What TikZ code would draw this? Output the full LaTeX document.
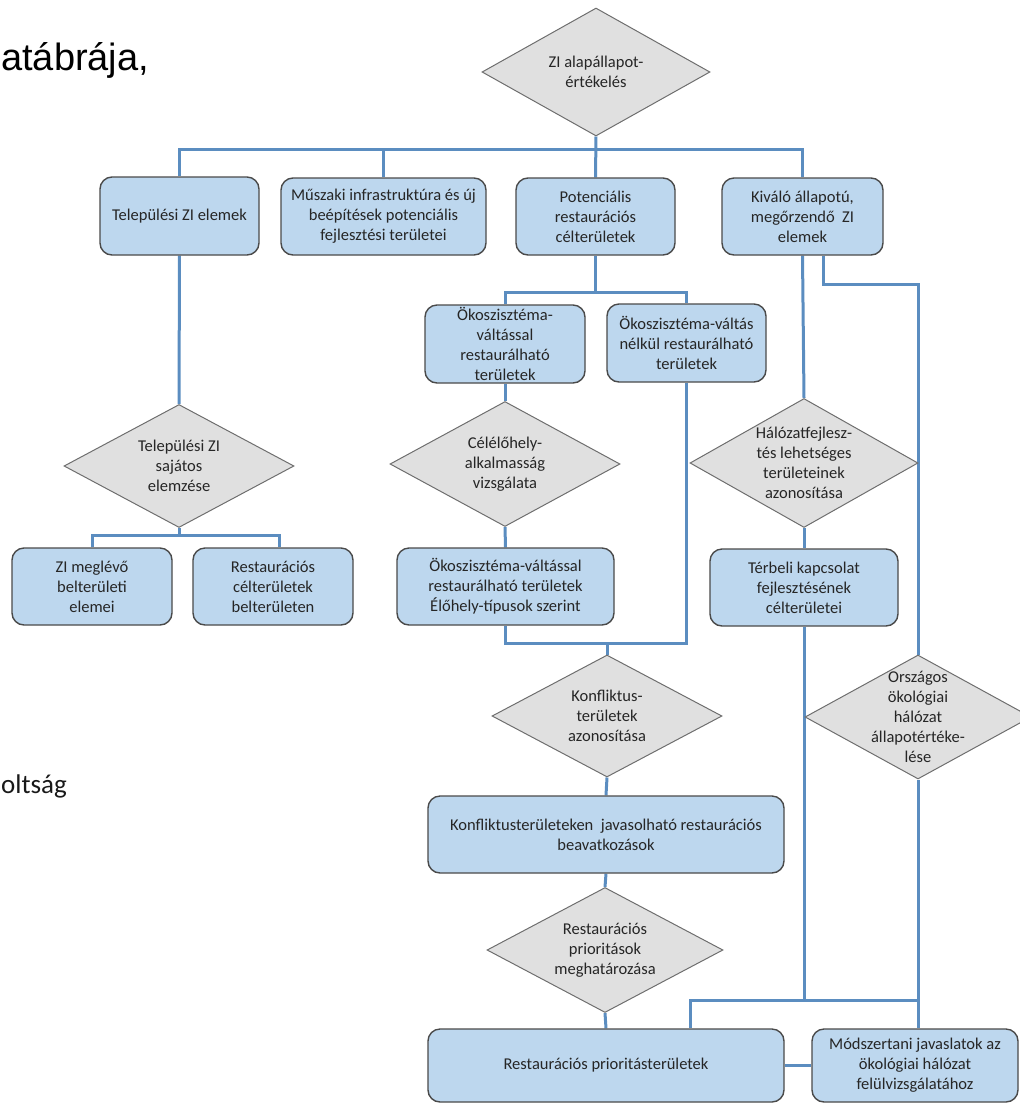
\documentclass[tikz,border=0pt]{standalone}
\usepackage{fontspec}
\setmainfont{Carlito}
\newfontfamily\arialf{Liberation Sans}
\usetikzlibrary{shapes.geometric,calc}
\pgfdeclarelayer{background}
\pgfsetlayers{background,main}
\definecolor{boxfill}{HTML}{BDD7EE}
\definecolor{boxdraw}{HTML}{4A4A4A}
\definecolor{diafill}{HTML}{E0E0E0}
\definecolor{diadraw}{HTML}{6E6E6E}
\definecolor{linec}{HTML}{5B8DC0}
\definecolor{txt}{HTML}{262626}
\begin{document}
\begin{tikzpicture}[x=1pt,y=-1pt,
  bx/.style={draw=boxdraw, line width=1.4pt, fill=boxfill, rounded corners=12pt,
    inner sep=0pt, align=center, text=txt, font=\fontsize{16.5}{20}\selectfont},
  dia/.style={diamond, draw=diadraw, line width=1pt, fill=diafill, inner sep=0pt,
    label={[align=center, text=txt, font=\fontsize{16.5}{20}\selectfont]center:#1}},
  conn/.style={draw=linec, line width=3pt}]
\useasboundingbox (0,0) rectangle (1020,1104);

% fragments of surrounding page
\node[anchor=base west, font=\arialf\fontsize{38}{46}\selectfont, inner sep=0pt] (title) at (1,70) {atábrája,};
\node[anchor=base west, text=black!90, font=\fontsize{27}{32}\selectfont, inner sep=0pt] (frag) at (1,793) {oltság};

% diamonds
\node[dia={ZI alapállapot-\\értékelés}, minimum width=228pt, minimum height=128pt] (d0) at (596,72) {};
\node[dia={Települési ZI\\sajátos\\elemzése}, minimum width=230pt, minimum height=123pt] (d1) at (179,466) {};
\node[dia={Célélőhely-\\alkalmasság\\vizsgálata}, minimum width=230pt, minimum height=125pt] (d2) at (505,464) {};
\node[dia={Hálózatfejlesz-\\tés lehetséges\\területeinek\\azonosítása}, minimum width=228pt, minimum height=129pt] (d3) at (804,463) {};
\node[dia={Konfliktus-\\területek\\azonosítása}, minimum width=230pt, minimum height=122pt] (d4) at (607,716) {};
\node[dia={Restaurációs\\prioritások\\meghatározása}, minimum width=236pt, minimum height=125pt] (d5) at (605,950) {};
\node[dia={Országos\\ökológiai\\hálózat\\állapotértéke-\\lése}, minimum width=226pt, minimum height=124pt] (d6) at (918,717) {};

% boxes
\node[bx, minimum width=159pt, minimum height=78pt] (b1) at (179.5,216) {Települési ZI elemek};
\node[bx, minimum width=205pt, minimum height=77pt] (b2) at (383.5,216.5) {Műszaki infrastruktúra és új\\beépítések potenciális\\fejlesztési területei};
\node[bx, minimum width=159pt, minimum height=77pt] (b3) at (595.5,216.5) {Potenciális\\restaurációs\\célterületek};
\node[bx, minimum width=161pt, minimum height=77pt] (b4) at (802.5,216.5) {Kiváló állapotú,\\megőrzendő\ \ ZI\\elemek};
\node[bx, minimum width=160pt, minimum height=78pt] (b5) at (505,344) {Ökoszisztéma-\\váltással\\restaurálható\\területek};
\node[bx, minimum width=159pt, minimum height=78pt] (b6) at (686.5,343) {Ökoszisztéma-váltás\\nélkül restaurálható\\területek};
\node[bx, minimum width=160pt, minimum height=77pt] (b7) at (92,586.5) {ZI meglévő\\belterületi\\elemei};
\node[bx, minimum width=160pt, minimum height=77pt] (b8) at (273,586.5) {Restaurációs\\célterületek\\belterületen};
\node[bx, minimum width=217pt, minimum height=77pt] (b9) at (505.5,586.5) {Ökoszisztéma-váltással\\restaurálható területek\\Élőhely-típusok szerint};
\node[bx, minimum width=188pt, minimum height=77pt] (b10) at (804,587.5) {Térbeli kapcsolat\\fejlesztésének\\célterületei};
\node[bx, minimum width=356pt, minimum height=77pt] (b11) at (606,834.5) {Konfliktusterületeken\ \ javasolható restaurációs\\beavatkozások};
\node[bx, minimum width=356pt, minimum height=73pt] (b12) at (606,1065.5) {Restaurációs prioritásterületek};
\node[bx, minimum width=206pt, minimum height=73pt] (b13) at (915,1065.5) {Módszertani javaslatok az\\ökológiai hálózat\\felülvizsgálatához};

% bus levels
\coordinate (yTop) at (0,149);
\coordinate (yS1) at (0,535);
\coordinate (yS2) at (0,292);
\coordinate (yJ) at (0,643);
\coordinate (yK) at (0,284);
\coordinate (yB) at (0,1000);

\begin{pgfonlayer}{background}
\draw[conn] (d0.south) -- (b3.north);
\draw[conn] (b1.north) -- (b1.north |- yTop) -- (b4.north |- yTop) -- (b4.north);
\draw[conn] (b2.north) -- (b2.north |- yTop);
\draw[conn] (b1.south) -- (d1.north);
\draw[conn] (d1.south) -- (d1.south |- yS1);
\draw[conn] (b7.north) -- (b7.north |- yS1) -| ($(b8.north)+(6,0)$);
\draw[conn] (b3.south) -- (b3.south |- yS2);
\draw[conn] (b5.north) -- (b5.north |- yS2) -| (b6.north);
\draw[conn] (b5.south) -- (d2.north);
\draw[conn] (d2.south) -- (b9.north);
\draw[conn] (b9.south) -- (b9.south |- yJ) -| (b6.south);
\draw[conn] (d4.north |- yJ) -- (d4.north);
\draw[conn] (b4.south) -- (d3.north);
\draw[conn] ($(b4.south)+(20.5,0)$) |- (d6.north |- yK) -- (d6.north);
\draw[conn] (d3.south) -- (b10.north);
\draw[conn] (d4.south) -- (b11.north);
\draw[conn] (b11.south) -- (d5.north);
\draw[conn] (d5.south) -- (b12.north);
\draw[conn] (b10.south) -- (b10.south |- yB);
\draw[conn] (d6.south) -- (d6.south |- b13.north);
\draw[conn] (d6.south |- yB) -| ($(b12.north)+(84,0)$);
\draw[conn] (b12.east) -- (b13.west);
\end{pgfonlayer}
\end{tikzpicture}
\end{document}
